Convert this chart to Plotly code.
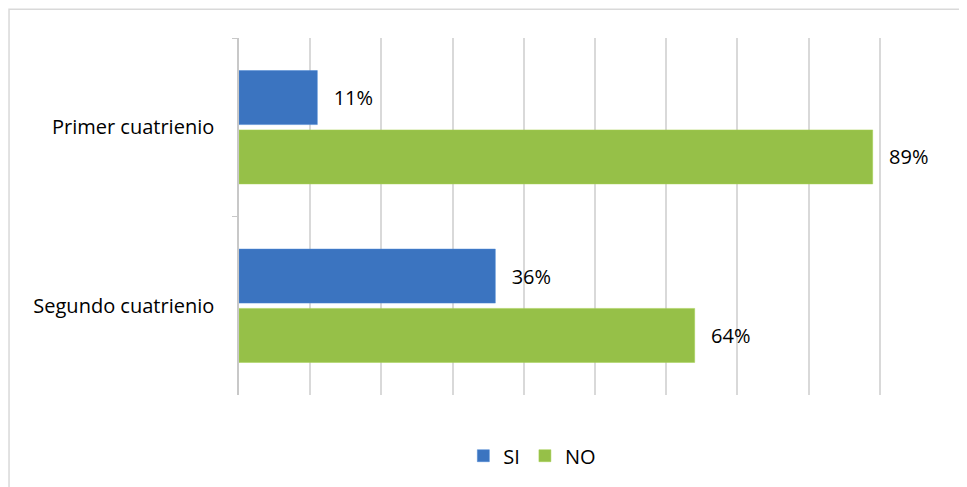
import plotly.graph_objects as go

# datos
categorias = ['Primer cuatrienio', 'Segundo cuatrienio']
si_valores = [11, 36]
no_valores = [89, 64]
etiquetas_si = ['11%', '36%']
etiquetas_no = ['89%', '64%']

FONT = 'Open Sans, Liberation Sans, sans-serif'
PAD = '\u2002\u2009'  # separación entre barra y etiqueta

fig = go.Figure()
fig.add_trace(go.Bar(
    name='SI', y=categorias, x=si_valores, orientation='h',
    marker=dict(color='#3b74c0', line=dict(color='#4a86d4', width=0.5)),
    text=[PAD + t for t in etiquetas_si], textposition='outside', cliponaxis=False,
    textfont=dict(size=20, color='#000000'),
))
fig.add_trace(go.Bar(
    name='NO', y=categorias, x=no_valores, orientation='h',
    marker=dict(color='#96c048', line=dict(color='#a6d050', width=0.5)),
    text=[PAD + t for t in etiquetas_no], textposition='outside', cliponaxis=False,
    textfont=dict(size=20, color='#000000'),
))

fig.update_layout(
    width=959, height=479,
    margin=dict(l=231, r=16, t=30, b=90),
    paper_bgcolor='white', plot_bgcolor='white',
    barmode='group', bargap=0.335, bargroupgap=0.09,
    font=dict(family=FONT, size=19, color='#000000'),
    showlegend=True,
    legend=dict(orientation='h', x=0.412, xanchor='center', y=-0.17, yanchor='middle',
                font=dict(size=20), itemwidth=30, traceorder='normal'),
    xaxis=dict(range=[0, 100], dtick=10, showticklabels=False, showgrid=True,
               gridcolor='#d9d9d9', gridwidth=1.5, zeroline=False, showline=False),
    yaxis=dict(autorange='reversed', showline=True, linecolor='#c8c8c8', linewidth=1.5,
               ticks='outside', ticklen=5, tickcolor='#c8c8c8', tickson='boundaries',
               ticklabelstandoff=19, tickfont=dict(size=20)),
    shapes=[dict(type='rect', xref='paper', yref='paper',
                 x0=-0.323, x1=1.2, y0=-0.4, y1=1.0808,
                 line=dict(color='#d9d9d9', width=1.5), fillcolor='rgba(0,0,0,0)',
                 layer='below')],
)

fig.write_html('out.html')
